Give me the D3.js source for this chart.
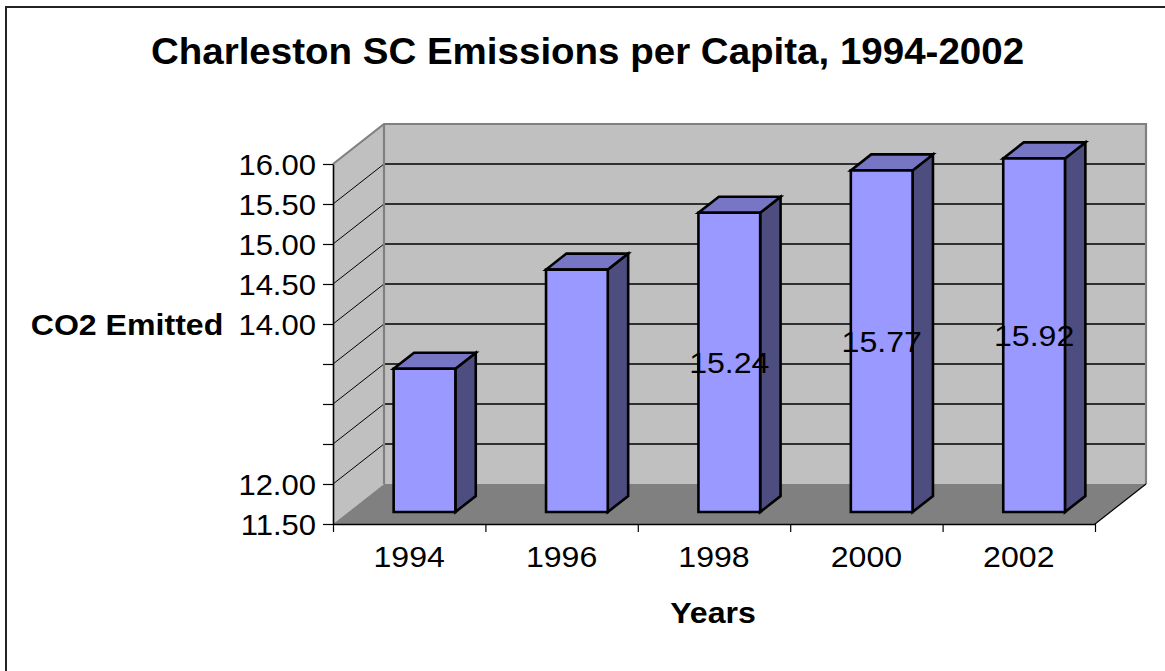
<!DOCTYPE html>
<html>
<head>
<meta charset="utf-8">
<script src="https://cdn.jsdelivr.net/npm/d3@7"></script>
<style>
  html, body { margin: 0; padding: 0; background: #fff; }
  svg { display: block; }
  text { font-family: "Liberation Sans", Arial, sans-serif; fill: #000; }
</style>
</head>
<body>
<svg id="chart" width="1165" height="671"></svg>
<script>
// Per-capita CO2 emissions for Charleston, SC
const years = ["1994", "1996", "1998", "2000", "2002"];
const emissions = [13.29, 14.53, 15.24, 15.77, 15.92];
const labeledYears = ["1998", "2000", "2002"];
const yTicks = [11.5, 12, 12.5, 13, 13.5, 14, 14.5, 15, 15.5, 16];
const yTickLabels = ["11.50", "12.00", "", "", "", "14.00", "14.50", "15.00", "15.50", "16.00"];

const W = 1165, H = 671;
const svg = d3.select("#chart");
const STRETCH = 1.07;          // text is drawn slightly wide
const DEPTH = { dx: 51, dy: -40 }; // full depth of the 3-D box
const BAR_T0 = 0.3, BAR_T1 = 0.7;  // bars occupy the middle of the depth

const x = d3.scaleBand(years, [333, 1095]).paddingInner(0.595).paddingOuter(0.2975);
const xIdx = d3.scaleLinear([0, years.length], [333, 1095]);
const y = d3.scaleLinear([11.5, 16], [524, 164]);
const [vMin, vMax] = y.domain();
const [xL, xR] = x.range();

// project a point (x, value) at depth fraction t
const P = (px, v, t) => [px + DEPTH.dx * t, y(v) + DEPTH.dy * t];
const poly = pts => "M" + pts.map(p => p.join(",")).join("L") + "Z";

// outer chart border
svg.append("rect").attr("x", 6).attr("y", 7).attr("width", 1300).attr("height", 800)
  .attr("fill", "#fff").attr("stroke", "#222").attr("stroke-width", 2);

const g = svg.append("g");

// walls and floor
g.append("path").attr("d", poly([P(xL, vMax, 1), P(xR, vMax, 1), P(xR, vMin, 1), P(xL, vMin, 1)]))
  .attr("fill", "#c0c0c0");
g.append("path").attr("d", poly([P(xL, vMax, 0), P(xL, vMax, 1), P(xL, vMin, 1), P(xL, vMin, 0)]))
  .attr("fill", "#c0c0c0");
g.append("path").attr("d", poly([P(xL, vMin, 0), P(xR, vMin, 0), P(xR, vMin, 1), P(xL, vMin, 1)]))
  .attr("fill", "#808080");

// gridlines on back and side walls
const inner = yTicks.filter(v => v > vMin && v < vMax);
g.selectAll(".gback").data(inner).join("line").attr("class", "gback")
  .attr("x1", v => P(xL, v, 1)[0]).attr("y1", v => P(xL, v, 1)[1])
  .attr("x2", v => P(xR, v, 1)[0]).attr("y2", v => P(xR, v, 1)[1])
  .attr("stroke", "#000").attr("stroke-width", 1.3);
g.selectAll(".gside").data(inner).join("line").attr("class", "gside")
  .attr("x1", v => P(xL, v, 0)[0]).attr("y1", v => P(xL, v, 0)[1])
  .attr("x2", v => P(xL, v, 1)[0]).attr("y2", v => P(xL, v, 1)[1])
  .attr("stroke", "#000").attr("stroke-width", 1);

// wall edges
g.append("path")
  .attr("d", "M" + [P(xL, vMax, 0), P(xL, vMax, 1), P(xR, vMax, 1), P(xR, vMin, 1)].map(p => p.join(",")).join("L"))
  .attr("fill", "none").attr("stroke", "#808080").attr("stroke-width", 2.2);
g.append("path")
  .attr("d", "M" + [P(xL, vMax, 1), P(xL, vMin, 1)].map(p => p.join(",")).join("L"))
  .attr("fill", "none").attr("stroke", "#808080").attr("stroke-width", 2.2);
g.append("path")
  .attr("d", "M" + [P(xR, vMin, 0), P(xR, vMin, 1)].map(p => p.join(",")).join("L"))
  .attr("fill", "none").attr("stroke", "#000").attr("stroke-width", 1.2);

// bars
const rows = years.map((yr, i) => ({ year: yr, value: emissions[i] }));
const bw = x.bandwidth();
const bars = g.selectAll(".bar").data(rows).join("g").attr("class", "bar");
const barStroke = { stroke: "#000", "stroke-width": 2.6, "stroke-linejoin": "miter" };
function styleFace(sel, fill) {
  sel.attr("fill", fill);
  Object.entries(barStroke).forEach(([k, v]) => sel.attr(k, v));
}
bars.append("path")
  .attr("d", d => { const r = x(d.year) + bw; return poly([P(r, d.value, BAR_T0), P(r, d.value, BAR_T1), P(r, vMin, BAR_T1), P(r, vMin, BAR_T0)]); })
  .call(styleFace, "#4d4d80");
bars.append("path")
  .attr("d", d => { const l = x(d.year), r = l + bw; return poly([P(l, d.value, BAR_T0), P(r, d.value, BAR_T0), P(r, d.value, BAR_T1), P(l, d.value, BAR_T1)]); })
  .call(styleFace, "#7676c4");
bars.append("path")
  .attr("d", d => { const l = x(d.year), r = l + bw; return poly([P(l, d.value, BAR_T0), P(r, d.value, BAR_T0), P(r, vMin, BAR_T0), P(l, vMin, BAR_T0)]); })
  .call(styleFace, "#9999ff");

// value labels centred on the front faces
bars.filter(d => labeledYears.includes(d.year)).append("text")
  .attr("transform", d => {
    const cx = P(x(d.year) + bw / 2, d.value, BAR_T0)[0];
    const mid = (P(0, d.value, BAR_T0)[1] + P(0, vMin, BAR_T0)[1]) / 2;
    return `translate(${cx},${mid + 10.7}) scale(${STRETCH},1)`;
  })
  .attr("text-anchor", "middle").style("font-size", "30px")
  .text(d => d3.format(".2f")(d.value));

// value axis
const yAxis = svg.append("g").attr("transform", `translate(${xL},0)`)
  .call(d3.axisLeft(y).tickValues(yTicks).tickSize(10).tickSizeOuter(0)
    .tickFormat((d, i) => yTickLabels[i]));
yAxis.select(".domain").attr("stroke", "#000").attr("stroke-width", 1.6);
yAxis.selectAll(".tick line").attr("stroke", "#000").attr("stroke-width", 1.2);
yAxis.selectAll(".tick text")
  .attr("x", null).attr("dy", "0.36em")
  .attr("transform", `translate(-17,0) scale(${STRETCH},1)`)
  .style("font-size", "29px").style("font-family", "Liberation Sans, Arial, sans-serif").attr("fill", "#000");

// category axis: ticks between categories
const xTickAxis = svg.append("g").attr("transform", `translate(0,${y(vMin)})`)
  .call(d3.axisBottom(xIdx).tickValues(d3.range(years.length + 1)).tickSize(8).tickSizeOuter(0).tickFormat(""));
xTickAxis.select(".domain").attr("stroke", "#000").attr("stroke-width", 1.6);
xTickAxis.selectAll(".tick line").attr("stroke", "#000").attr("stroke-width", 1.2);

// category labels
const xLabelAxis = svg.append("g").attr("transform", `translate(0,${y(vMin)})`)
  .call(d3.axisBottom(x).tickSize(0).tickPadding(22));
xLabelAxis.select(".domain").remove();
xLabelAxis.selectAll(".tick text")
  .attr("transform", `scale(${STRETCH},1)`)
  .attr("x", function () { return 0; })
  .style("font-size", "30px").style("font-family", "Liberation Sans, Arial, sans-serif").attr("fill", "#000");

// titles
function label(txt, cx, by, size) {
  svg.append("text")
    .attr("transform", `translate(${cx},${by}) scale(${STRETCH},1)`)
    .attr("text-anchor", "middle").style("font-size", size + "px").style("font-weight", "bold")
    .text(txt);
}
label("Charleston SC Emissions per Capita, 1994-2002", 587.5, 63.5, 36);
label("CO2 Emitted", 127, 335, 30);
label("Years", 713, 622.5, 30);
</script>
</body>
</html>
